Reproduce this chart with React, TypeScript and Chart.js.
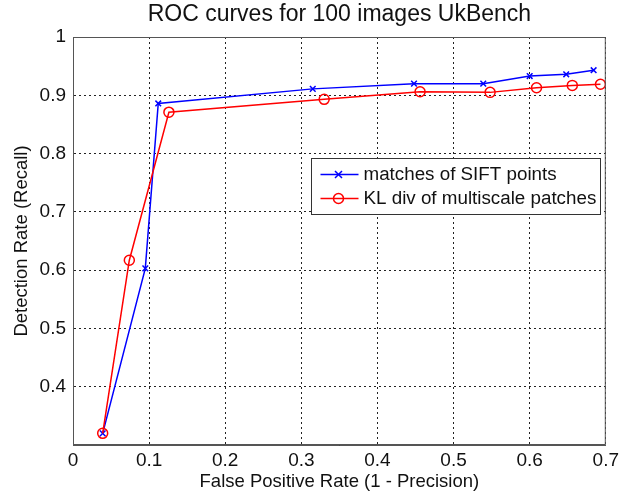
import React, { useEffect, useRef } from 'react';
import { Chart, registerables } from 'chart.js';

Chart.register(...registerables);

// ---- data ----
const seriesLabels = ['matches of SIFT points', 'KL div of multiscale patches'];
const siftX = [0.039, 0.095, 0.112, 0.315, 0.448, 0.539, 0.6, 0.648, 0.684];
const siftY = [0.32, 0.603, 0.886, 0.911, 0.92, 0.92, 0.933, 0.936, 0.943];
const klX = [0.039, 0.074, 0.126, 0.33, 0.456, 0.548, 0.609, 0.656, 0.693];
const klY = [0.32, 0.617, 0.871, 0.893, 0.906, 0.905, 0.913, 0.917, 0.919];
const xTickValues = [0, 0.1, 0.2, 0.3, 0.4, 0.5, 0.6, 0.7];
const yTickValues = [0.3, 0.4, 0.5, 0.6, 0.7, 0.8, 0.9, 1];
const yHiddenTick = 0.3;

const FONT = 'Liberation Sans, Arial, Helvetica, sans-serif';
const BLUE = '#0000ff';
const RED = '#ff0000';

const fmt = (v: number) => String(+v.toFixed(1));

// center the title over the plot area (as MATLAB does)
const titleOverPlotPlugin = {
  id: 'titleOverPlot',
  afterLayout(chart: any) {
    const tb = chart.titleBlock;
    if (tb) {
      tb.left = chart.chartArea.left;
      tb.right = chart.chartArea.right;
      tb.width = tb.right - tb.left;
    }
  },
};

const boxLegendPlugin = {
  id: 'boxLegend',
  afterDraw(chart: any) {
    const { ctx, chartArea } = chart;
    const w = chartArea.right - chartArea.left;
    const h = chartArea.bottom - chartArea.top;
    // frame around plot
    ctx.save();
    ctx.strokeStyle = '#555';
    ctx.lineWidth = 1;
    ctx.setLineDash([]);
    ctx.strokeRect(chartArea.left + 0.5, chartArea.top + 0.5, w - 1, h - 1);

    // legend box
    const lx = Math.round(chartArea.left + 0.447 * w) + 0.5;
    const rx = Math.round(chartArea.left + 0.989 * w) + 0.5;
    const ty = Math.round(chartArea.top + 0.297 * h) + 0.5;
    const by = Math.round(chartArea.top + 0.435 * h) + 0.5;
    ctx.fillStyle = '#fff';
    ctx.fillRect(lx, ty, rx - lx, by - ty);
    ctx.strokeStyle = '#333';
    ctx.strokeRect(lx, ty, rx - lx, by - ty);

    chart.data.datasets.forEach((ds: any, i: number) => {
      const cy = ty + 16 + 24 * i;
      ctx.strokeStyle = ds.borderColor;
      ctx.lineWidth = 1.5;
      ctx.beginPath();
      ctx.moveTo(lx + 9, cy);
      ctx.lineTo(lx + 47, cy);
      ctx.stroke();
      const mx = lx + 27;
      if (ds.pointStyle === 'crossRot') {
        const r = 3.5;
        ctx.beginPath();
        ctx.moveTo(mx - r, cy - r);
        ctx.lineTo(mx + r, cy + r);
        ctx.moveTo(mx - r, cy + r);
        ctx.lineTo(mx + r, cy - r);
        ctx.stroke();
      } else {
        ctx.beginPath();
        ctx.arc(mx, cy, 5, 0, Math.PI * 2);
        ctx.stroke();
      }
      ctx.fillStyle = '#111';
      ctx.font = `18.8px ${FONT}`;
      ctx.textBaseline = 'middle';
      ctx.textAlign = 'left';
      ctx.fillText(ds.label, lx + 52, cy);
    });
    ctx.restore();
  },
};

export default function App() {
  const ref = useRef<HTMLCanvasElement | null>(null);

  useEffect(() => {
    document.body.style.margin = '0';
    document.body.style.overflow = 'hidden';
    const canvas = ref.current;
    if (!canvas) return;

    const chart = new Chart(canvas, {
      type: 'line',
      data: {
        datasets: [
          {
            label: seriesLabels[0],
            data: siftX.map((x, i) => ({ x, y: siftY[i] })),
            borderColor: BLUE,
            backgroundColor: BLUE,
            borderWidth: 1.5,
            pointStyle: 'crossRot',
            pointRadius: 4,
            pointBorderWidth: 1.5,
            pointBorderColor: BLUE,
            pointBackgroundColor: 'transparent',
            fill: false,
            tension: 0,
            order: 1,
          },
          {
            label: seriesLabels[1],
            data: klX.map((x, i) => ({ x, y: klY[i] })),
            borderColor: RED,
            backgroundColor: RED,
            borderWidth: 1.5,
            pointStyle: 'circle',
            pointRadius: 5,
            pointBorderWidth: 1.5,
            pointBorderColor: RED,
            pointBackgroundColor: 'transparent',
            fill: false,
            tension: 0,
            order: 0,
          },
        ],
      },
      options: {
        animation: false,
        responsive: false,
        devicePixelRatio: 1,
        layout: { padding: { left: 0, right: 13, top: 0, bottom: 0 } },
        plugins: {
          legend: { display: false },
          tooltip: { enabled: false },
          title: {
            display: true,
            text: 'ROC curves for 100 images UkBench',
            color: '#111',
            font: { family: FONT, size: 23, weight: 'normal', lineHeight: 1 },
            padding: { top: 3, bottom: 11 },
          },
        },
        scales: {
          x: {
            type: 'linear',
            min: 0,
            max: 0.7,
            afterBuildTicks: (scale: any) => {
              scale.ticks = xTickValues.map((v) => ({ value: v }));
            },
            afterFit: (scale: any) => {
              scale.height = 48;
            },
            ticks: {
              color: '#111',
              font: { family: FONT, size: 19 },
              padding: 4,
              callback: (v: any) => fmt(Number(v)),
              maxRotation: 0,
            },
            grid: { color: '#222', lineWidth: 1, drawTicks: false },
            border: { display: true, color: '#555', dash: [2, 3] },
            title: {
              display: true,
              text: 'False Positive Rate (1 - Precision)',
              color: '#111',
              font: { family: FONT, size: 18.5 },
              padding: { top: 2, bottom: 0 },
            },
          },
          y: {
            type: 'linear',
            min: 0.3,
            max: 1,
            afterBuildTicks: (scale: any) => {
              scale.ticks = yTickValues.map((v) => ({ value: v }));
            },
            afterFit: (scale: any) => {
              scale.width = 73;
            },
            ticks: {
              color: '#111',
              font: { family: FONT, size: 19 },
              padding: 7,
              callback: (v: any) =>
                Math.abs(Number(v) - yHiddenTick) < 1e-6 ? '' : fmt(Number(v)),
            },
            grid: { color: '#222', lineWidth: 1, drawTicks: false },
            border: { display: true, color: '#555', dash: [2, 3] },
            title: {
              display: true,
              text: 'Detection Rate (Recall)',
              color: '#111',
              font: { family: FONT, size: 18.5 },
              padding: { top: 11, bottom: 0 },
            },
          },
        },
      },
      plugins: [titleOverPlotPlugin, boxLegendPlugin],
    } as any);

    return () => chart.destroy();
  }, []);

  return (
    <div style={{ width: 623, height: 493, background: '#fff' }}>
      <canvas ref={ref} width={623} height={493} style={{ display: 'block' }} />
    </div>
  );
}
